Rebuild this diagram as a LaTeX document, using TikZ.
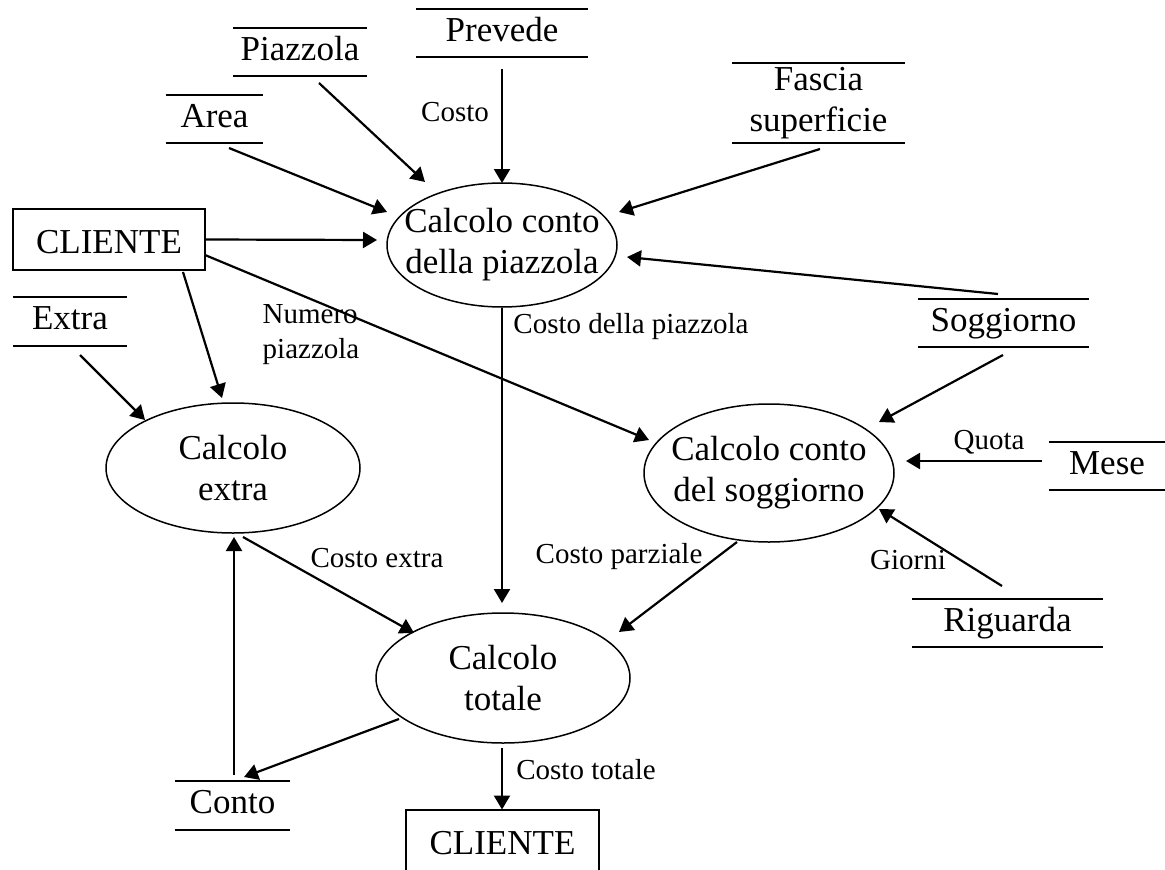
\documentclass[tikz,border=0pt]{standalone}
\usepackage{fontspec}
\setmainfont{Liberation Serif}
\usetikzlibrary{arrows.meta,shapes.geometric}
\begin{document}
\begin{tikzpicture}[x=1pt,y=-1pt,
  big/.style={font=\fontsize{35}{41}\selectfont},
  lbl/.style={font=\fontsize{29}{35}\selectfont, inner sep=0pt},
  proc/.style={ellipse, draw, line width=1.5pt, inner xsep=-30pt, inner ysep=0pt, big, align=center},
  ext/.style={rectangle, draw, line width=1.7pt, inner sep=0pt, big, minimum height=61pt, text height=27pt, text depth=0pt},
  storeline/.style={line width=2.2pt},
  store/.style={inner sep=0pt, big, align=center, minimum height=48pt, minimum width=#1,
     text height=24pt, text depth=8pt,
     append after command={(\tikzlastnode.north west) edge[storeline] (\tikzlastnode.north east)
                           (\tikzlastnode.south west) edge[storeline] (\tikzlastnode.south east)}},
  store/.default=100pt,
  flow/.style={line width=2.2pt, -{Triangle[length=14pt,width=16pt]}},
]
\path[use as bounding box, fill=white] (0,0) rectangle (1165,870);

% data stores
\node[store=172pt] (prevede) at (502,33) {Prevede};
\node[store=134pt] (piazzola) at (300,52) {Piazzola};
\node[store=97pt] (area) at (214.5,119) {Area};
\node[store=173pt, minimum height=80pt, text height=65pt, text depth=8pt] (fascia) at (818.5,103) {Fascia\\superficie};
\node[store=171pt] (soggiorno) at (1003.5,323) {Soggiorno};
\node[store=116pt] (mese) at (1107,466) {Mese};
\node[store=191pt] (riguarda) at (1007.5,623) {Riguarda};
\node[store=114pt] (extra) at (70,321.5) {Extra};
\node[store=115pt] (conto) at (232.5,805.5) {Conto};

% external entities
\node[ext, minimum width=192pt] (cliente1) at (109,239.5) {CLIENTE};
\node[ext, minimum width=193pt] (cliente2) at (502.5,840.5) {CLIENTE};

% processes
\node[proc, minimum width=230pt, minimum height=124pt] (e1) at (502,245) {Calcolo conto\\della piazzola};
\node[proc, minimum width=254pt, minimum height=130pt] (e2) at (233,468) {Calcolo\\extra};
\node[proc, minimum width=250pt, minimum height=138pt] (e3) at (769,473) {Calcolo conto\\del soggiorno};
\node[proc, minimum width=254pt, minimum height=130pt] (e4) at (503,678) {Calcolo\\totale};

% flows
\draw[flow] ([shift={(0,36)}]prevede.center) -- ([shift={(0,-62)}]e1.center)
  node[lbl] at (455,112) {Costo};
\draw[flow] ([shift={(19,31)}]piazzola.center) -- ([shift={(-77,-63)}]e1.center);
\draw[flow] ([shift={(14.5,29)}]area.center) -- ([shift={(-115,-33)}]e1.center);
\draw[flow] (cliente1.east) -- ([shift={(-125,-5)}]e1.center);
\draw[flow] ([shift={(1.5,46)}]fascia.center) -- ([shift={(117,-33)}]e1.center);
\draw[flow] ([shift={(-5.5,-29)}]soggiorno.center) -- ([shift={(125,12)}]e1.center);
\draw[flow] ([shift={(96,15.5)}]cliente1.center) -- ([shift={(-120,-33)}]e3.center)
  node[lbl, align=left] at (311,335) {Numero\\piazzola};
\draw[flow] ([shift={(74,32.5)}]cliente1.center) -- ([shift={(-11,-70)}]e2.center);
\draw[flow] ([shift={(10,33.5)}]extra.center) -- ([shift={(-88,-48)}]e2.center);
\draw[flow] ([shift={(0,63)}]e1.center) -- ([shift={(-1,-75)}]e4.center)
  node[lbl] at (631,327) {Costo della piazzola};
\draw[flow] ([shift={(-0.5,32)}]soggiorno.center) -- ([shift={(110,-51)}]e3.center);
\draw[flow] ([shift={(-65,-5)}]mese.center) -- ([shift={(137,-12)}]e3.center)
  node[lbl] at (989,442) {Quota};
\draw[flow] ([shift={(-5.5,-37)}]riguarda.center) -- ([shift={(110,36)}]e3.center)
  node[lbl] at (908,560) {Giorni};
\draw[flow] ([shift={(-32,69)}]e3.center) -- ([shift={(116,-46)}]e4.center)
  node[lbl] at (619,557) {Costo parziale};
\draw[flow] ([shift={(10,69)}]e2.center) -- ([shift={(-89,-45)}]e4.center)
  node[lbl] at (377,558) {Costo extra};
\draw[flow] ([shift={(-104,41)}]e4.center) -- ([shift={(11.5,-28.5)}]conto.center);
\draw[flow] ([shift={(1.5,-30.5)}]conto.center) -- ([shift={(1,69)}]e2.center);
\draw[flow] ([shift={(-1,70)}]e4.center) -- ([shift={(-0.5,-31)}]cliente2.center)
  node[lbl] at (586,770) {Costo totale};
\end{tikzpicture}
\end{document}
